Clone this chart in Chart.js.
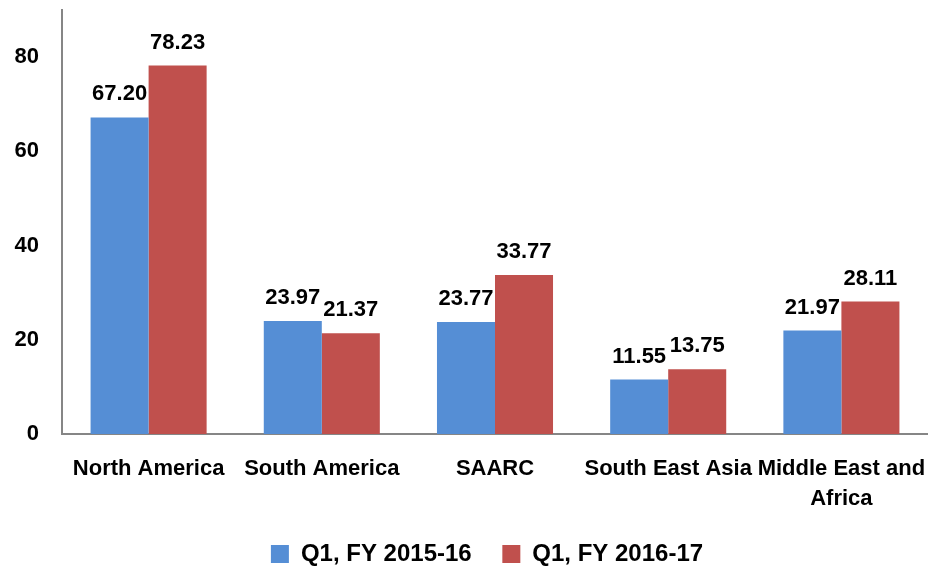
<!DOCTYPE html>
<html>
<head>
<meta charset="utf-8">
<script src="https://cdn.jsdelivr.net/npm/chart.js@4.4.1/dist/chart.umd.min.js"></script>
<style>
html,body{margin:0;padding:0;background:#fff;}
#wrap{width:928px;height:569px;position:relative;}
</style>
</head>
<body>
<div id="wrap"><canvas id="c" width="928" height="569"></canvas></div>
<script>
const categories = ["North America", "South America", "SAARC", "South East Asia", ["Middle East and", "Africa"]];
const seriesNames = ["Q1, FY 2015-16", "Q1, FY 2016-17"];
const fy2015 = [67.20, 23.97, 23.77, 11.55, 21.97];
const fy2016 = [78.23, 21.37, 33.77, 13.75, 28.11];
const yTicks = [0, 20, 40, 60, 80];
const colors = ['#558ED5', '#C0504D'];

const FONT = "'Liberation Sans Narrow', 'Arial Narrow', 'Liberation Sans', Arial, sans-serif";

const labelPlugin = {
  id: 'valueLabels',
  afterLayout(chart) {
    const lg = chart.legend;
    if (lg) { lg.left += 23; lg.right += 23; lg.top += 7; lg.bottom += 7; }
  },
  afterDatasetsDraw(chart) {
    const ctx = chart.ctx;
    ctx.save();
    ctx.font = "bold 22px " + FONT;
    ctx.fillStyle = "#000";
    ctx.textAlign = "center";
    ctx.textBaseline = "bottom";
    chart.data.datasets.forEach((ds, i) => {
      const meta = chart.getDatasetMeta(i);
      meta.data.forEach((bar, j) => {
        ctx.fillText(ds.data[j].toFixed(2), bar.x, bar.y - 12);
      });
    });
    ctx.restore();
  }
};

new Chart(document.getElementById('c'), {
  type: 'bar',
  data: {
    labels: categories,
    datasets: [
      { label: seriesNames[0], data: fy2015, backgroundColor: colors[0], categoryPercentage: 0.67, barPercentage: 1 },
      { label: seriesNames[1], data: fy2016, backgroundColor: colors[1], categoryPercentage: 0.67, barPercentage: 1 }
    ]
  },
  options: {
    responsive: false,
    animation: false,
    layout: { padding: { top: 10, right: 0, left: 0, bottom: 0 } },
    plugins: {
      tooltip: { enabled: false },
      legend: {
        position: 'bottom',
        labels: {
          font: { family: FONT, size: 24, weight: 'bold' },
          color: '#000',
          boxWidth: 18,
          boxHeight: 18,
          padding: 4,
          generateLabels(chart) {
            return chart.data.datasets.map((ds, i) => ({
              text: i === 0 ? ds.label + '    ' : ds.label,
              fillStyle: ds.backgroundColor,
              strokeStyle: ds.backgroundColor,
              lineWidth: 0,
              hidden: false,
              datasetIndex: i
            }));
          }
        }
      }
    },
    scales: {
      x: {
        grid: { display: false },
        border: { display: true, color: '#868686', width: 2 },
        ticks: {
          font: { family: FONT, size: 22, weight: 'bold', lineHeight: 1.36 },
          color: '#000',
          padding: 12,
          maxRotation: 0,
          autoSkip: false
        },
        afterFit(scale) { scale.height = 97; scale.paddingLeft = 0; scale.paddingRight = 0; }
      },
      y: {
        min: 0,
        max: 90,
        grid: { display: false },
        border: { display: true, color: '#868686', width: 2 },
        afterBuildTicks(scale) { scale.ticks = yTicks.map(v => ({ value: v })); },
        ticks: {
          font: { family: FONT, size: 22, weight: 'bold' },
          color: '#000',
          padding: 15
        },
        afterFit(scale) { scale.width = 62; scale.paddingTop = 0; scale.paddingBottom = 0; }
      }
    }
  },
  plugins: [labelPlugin]
});
</script>
</body>
</html>
